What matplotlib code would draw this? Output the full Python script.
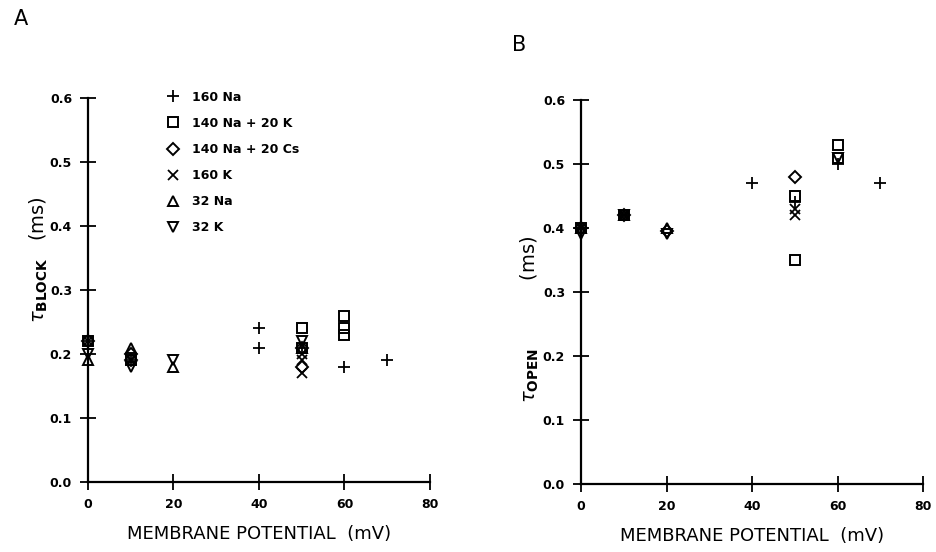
import numpy as np
import matplotlib.pyplot as plt

# membrane potential (mV) / time constant (ms) for each solution
labels = ['160 Na', '140 Na + 20 K', '140 Na + 20 Cs', '160 K', '32 Na', '32 K']
markers = ['+', 's', 'D', 'x', '^', 'v']

# panel A: tau block
block_x = [
    [0, 10, 40, 40, 50, 60, 70],
    [0, 10, 50, 50, 60, 60, 60],
    [0, 10, 10, 50, 50],
    [0, 10, 50, 50, 50],
    [0, 10, 20, 50],
    [0, 10, 20, 50],
]
block_y = [
    [0.22, 0.19, 0.24, 0.21, 0.21, 0.18, 0.19],
    [0.22, 0.19, 0.24, 0.21, 0.26, 0.24, 0.23],
    [0.22, 0.20, 0.19, 0.21, 0.18],
    [0.22, 0.19, 0.20, 0.19, 0.17],
    [0.19, 0.21, 0.18, 0.21],
    [0.20, 0.18, 0.19, 0.22],
]

# panel B: tau open
open_x = [
    [0, 10, 40, 50, 60, 70],
    [0, 10, 50, 50, 60, 60],
    [0, 10, 20, 50],
    [0, 10, 50, 50],
    [0, 10, 20],
    [0, 10, 20, 60],
]
open_y = [
    [0.40, 0.42, 0.47, 0.44, 0.50, 0.47],
    [0.40, 0.42, 0.45, 0.35, 0.53, 0.51],
    [0.40, 0.42, 0.395, 0.48],
    [0.40, 0.42, 0.43, 0.42],
    [0.40, 0.42, 0.40],
    [0.39, 0.42, 0.39, 0.51],
]

x_ticks = [0, 20, 40, 60, 80]
y_ticks = [0.0, 0.1, 0.2, 0.3, 0.4, 0.5, 0.6]

W, H = 937, 552
fig = plt.figure(figsize=(W / 100, H / 100), dpi=100)


def px_axes(left, right, bottom, top):
    return fig.add_axes([left / W, 1 - bottom / H, (right - left) / W, (bottom - top) / H])


def style_axes(ax):
    ax.set_xlim(0, 80)
    ax.set_ylim(0, 0.6)
    for s in ['top', 'right']:
        ax.spines[s].set_visible(False)
    for s in ['left', 'bottom']:
        ax.spines[s].set_linewidth(1.6)
    ax.set_xticks(x_ticks)
    ax.set_yticks(y_ticks)
    ax.set_xticklabels([str(v) for v in x_ticks], fontsize=9, fontweight='bold')
    ax.set_yticklabels([f'{v:.1f}' for v in y_ticks], fontsize=9, fontweight='bold')
    ax.tick_params(direction='inout', length=11, width=1.3, pad=6)
    ax.set_xlabel('MEMBRANE POTENTIAL  (mV)', fontsize=13, labelpad=10)


def draw_points(ax, xs, ys):
    handles = []
    for xv, yv, m, lab in zip(xs, ys, markers, labels):
        if m in ('+', 'x'):
            kw = dict(color='black', markeredgewidth=1.3)
        else:
            kw = dict(markerfacecolor='none', markeredgecolor='black', markeredgewidth=1.4)
        ms = 6 if m == 'D' else 7
        if m == '+':
            ms = 8
        h, = ax.plot(xv, yv, linestyle='none', marker=m, markersize=ms,
                     clip_on=False, zorder=5, label=lab, **kw)
        handles.append(h)
    return handles


axA = px_axes(88, 430, 482, 98)
style_axes(axA)
hA = draw_points(axA, block_x, block_y)
axA.legend(handles=hA, loc='upper left', bbox_to_anchor=(0.215, 1.032), frameon=False,
           prop={'size': 9, 'weight': 'bold'}, handlelength=1.0, handletextpad=1.0,
           labelspacing=1.05, borderaxespad=0)
axA.text(-0.145, 0.58, r'$\tau_{\mathbf{BLOCK}}$   (ms)', transform=axA.transAxes,
         rotation=90, ha='center', va='center', fontsize=14)

axB = px_axes(581, 923, 484, 100)
style_axes(axB)
draw_points(axB, open_x, open_y)
axB.text(-0.15, 0.43, r'$\tau_{\mathbf{OPEN}}$           (ms)', transform=axB.transAxes,
         rotation=90, ha='center', va='center', fontsize=14)

fig.text(14 / W, 1 - 19 / H, 'A', fontsize=15, ha='left', va='center')
fig.text(512 / W, 1 - 45 / H, 'B', fontsize=15, ha='left', va='center')

fig.savefig('out.png', dpi=100)
